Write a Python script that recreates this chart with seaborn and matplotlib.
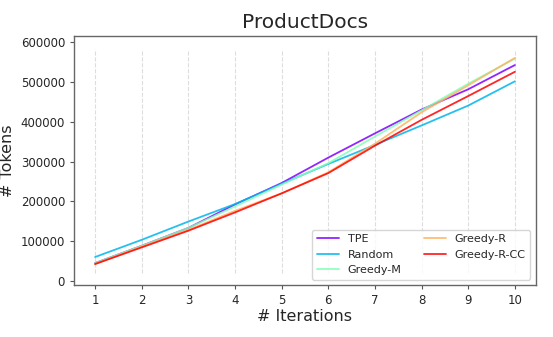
import matplotlib
matplotlib.use("Agg")
import matplotlib.pyplot as plt
import seaborn as sns
import pandas as pd
import numpy as np

iterations = [1, 2, 3, 4, 5, 6, 7, 8, 9, 10]
tpe = [44500, 88000, 133000, 192000, 246000, 310000, 371000, 431000, 482000, 543000]
random_ = [59700, 103000, 149000, 193000, 244000, 294000, 342000, 391000, 441000, 502000]
greedy_m = [44500, 88000, 133000, 187000, 242000, 296000, 363000, 429000, 496000, 559000]
greedy_r = [42000, 86000, 128000, 176000, 220000, 273000, 345000, 424000, 492000, 561000]
greedy_r_cc = [42000, 84000, 126000, 172000, 220000, 271000, 340000, 405000, 465000, 526000]
methods = ["TPE", "Random", "Greedy-M", "Greedy-R", "Greedy-R-CC"]
series = [tpe, random_, greedy_m, greedy_r, greedy_r_cc]

rows = []
for m, vals in zip(methods, series):
    for it, v in zip(iterations, vals):
        rows.append({"Iteration": it, "Tokens": v, "Method": m})
df = pd.DataFrame(rows)

sns.set_style("white")
fig, ax = plt.subplots(figsize=(5.53, 3.37), dpi=100)
fig.subplots_adjust(left=0.134, right=0.969, top=0.893, bottom=0.154)

colors = [plt.cm.rainbow(x) for x in np.linspace(0, 1, 5)]
palette = dict(zip(methods, colors))
sns.lineplot(data=df, x="Iteration", y="Tokens", hue="Method", palette=palette,
             linewidth=1.3, ax=ax, alpha=0.85)

for it in iterations:
    ax.axvline(it, ymin=0.05, ymax=0.95, color="#dddddd", linestyle="--", linewidth=0.8, zorder=0)

ax.set_xticks(iterations)
ax.set_xlim(0.55, 10.45)
ax.set_ylim(-11000, 616000)
ax.set_yticks([0, 100000, 200000, 300000, 400000, 500000, 600000])
ax.ticklabel_format(axis="y", style="plain")
ax.tick_params(axis="both", labelsize=8.5, length=3, width=0.8, color="#555555", left=True, bottom=True)
for s in ax.spines.values():
    s.set_color("#666666")
    s.set_linewidth(1.0)
ax.set_title("ProductDocs", fontsize=14.5)
ax.set_xlabel("# Iterations", fontsize=11.5, labelpad=1)
ax.set_ylabel("# Tokens", fontsize=11.5)
ax.legend(loc="lower right", ncol=2, fontsize=8, frameon=True)

fig.savefig("out.png", dpi=100)
